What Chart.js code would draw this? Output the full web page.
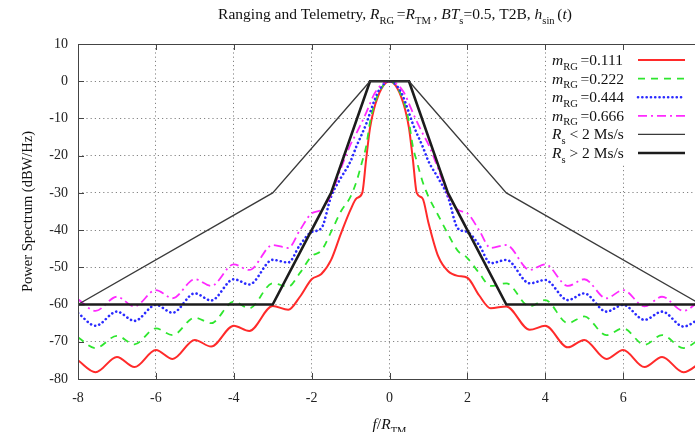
<!DOCTYPE html>
<html><head><meta charset="utf-8">
<script src="https://cdn.jsdelivr.net/npm/chart.js@4"></script>
<style>
html,body{margin:0;padding:0;background:#fff;overflow:hidden;width:695px;height:432px}
#wrap{position:absolute;left:0;top:0;width:712px;height:432px}
</style>
</head><body><div id="wrap"><canvas id="c" width="712" height="432"></canvas></div>
<script>
// ---- data ----
const freq = [-8,-7.55,-7,-6.55,-6,-5.57,-5,-4.58,-4,-3.6,-3,-2.6,-2.3,-2,-1.75,-1.5,-1.25,-1,-0.85,-0.7,-0.6,-0.5,-0.4,-0.3,-0.2,-0.1,0,
  0.1,0.2,0.3,0.4,0.5,0.6,0.7,0.85,1,1.25,1.5,1.75,2,2.3,2.6,3,3.6,4,4.58,5,5.57,6,6.55,7,7.55,8];
const psd111 = [-75,-78.2,-74.1,-76.8,-72.2,-74.6,-69.5,-71.3,-65.7,-67.1,-60.4,-61.4,-57.9,-53.2,-51.8,-48,-41,-34.5,-31.5,-30,-21,-12.5,-7.5,-4.2,-1.9,-0.5,0,
  -0.5,-1.9,-4.2,-7.5,-12.5,-21,-30,-31.5,-38,-47,-51,-52.3,-52.8,-57.5,-61,-60.5,-66.8,-65.7,-71.5,-69.5,-74.6,-72.2,-76.8,-74.1,-78.2,-75.5];
const psd222 = [-68.8,-71.7,-68.4,-70.7,-66.4,-68.2,-63.5,-65,-59.2,-61,-54.3,-55.2,-51.5,-47,-45.5,-40.5,-35,-31,-27,-21.5,-17.5,-11,-6.5,-3.7,-1.7,-0.4,0,
  -0.4,-1.7,-3.7,-6.5,-11,-17.5,-21.5,-27,-31,-36,-41,-45.5,-47.5,-51.5,-55,-54.3,-60.5,-58.8,-65,-63.2,-68.2,-66.4,-70.8,-68.2,-71.7,-69];
const psd444 = [-62.3,-65.7,-61.9,-64.4,-60.1,-62.2,-57,-58.9,-53.2,-54.6,-48,-48.7,-44,-40.5,-39.5,-31,-26,-21.5,-17.5,-14,-11.5,-8.5,-5.5,-3,-1.4,-0.3,0,
  -0.3,-1.4,-3,-5.5,-8.5,-11.5,-14,-17.5,-21.5,-26,-31,-39.5,-40.5,-44,-48.9,-48,-54.3,-53.4,-58.8,-57,-61.9,-60.1,-64.1,-61.9,-65.9,-63.5];
const psd666 = [-58.6,-61.7,-57.9,-60.5,-56.1,-58.3,-53.2,-55,-49.2,-50.7,-44,-44.8,-40,-35.5,-34.5,-30.5,-23.5,-17,-14,-10.8,-8.5,-6,-3.6,-2,-0.9,-0.2,0,
  -0.2,-0.9,-2,-3.6,-6,-8.5,-10.8,-14,-17,-23.5,-30.5,-34.5,-35.5,-40,-44.8,-44,-50.7,-49.2,-55,-53.2,-58.3,-56.1,-60.5,-57.9,-61.7,-58.6];
const maskWideF = [-8,-3,-0.5,0.5,3,8];
const maskWideDb = [-60,-30,0,0,-30,-60];
const maskNarrowF = [-8,-3,-1.5,-0.5,0.5,1.5,3,8];
const maskNarrowDb = [-60,-60,-30,0,0,-30,-60,-60];
const xTicks = [-8,-6,-4,-2,0,2,4,6,8];
const xTickLabels = ['-8','-6','-4','-2','0','2','4','6',''];
const yTicks = [10,0,-10,-20,-30,-40,-50,-60,-70,-80];
const legendLabels = [
  [{t:'m',it:1},{t:'RG ',sub:1},{t:'=0.111'}],
  [{t:'m',it:1},{t:'RG ',sub:1},{t:'=0.222'}],
  [{t:'m',it:1},{t:'RG ',sub:1},{t:'=0.444'}],
  [{t:'m',it:1},{t:'RG ',sub:1},{t:'=0.666'}],
  [{t:'R',it:1},{t:'s',sub:1},{t:' < 2 Ms/s'}],
  [{t:'R',it:1},{t:'s',sub:1},{t:' > 2 Ms/s'}]
];
const titleSegs = [{t:'Ranging and Telemetry, '},{t:'R',it:1},{t:'RG ',sub:1},{t:'='},{t:'R',it:1},{t:'TM ',sub:1},{t:', '},
  {t:'BT',it:1},{t:'s',sub:1},{t:'=0.5, T2B, '},{t:'h',it:1},{t:'sin ',sub:1},{t:'('},{t:'t',it:1},{t:')'}];
const xTitleSegs = [{t:'f',it:1},{t:'/'},{t:'R',it:1},{t:'TM',sub:1}];
const yTitle = 'Power Spectrum (dBW/Hz)';

// ---- helpers ----
const SERIF = '"Liberation Serif", "Times New Roman", serif';
function rich(ctx, segs, x, y, size, align) {
  const parts = segs.map(s => {
    const fs = s.sub ? size * 0.68 : size;
    const font = (s.it ? 'italic ' : '') + fs + 'px ' + SERIF;
    ctx.font = font;
    return {t: s.t, font, w: ctx.measureText(s.t).width, dy: s.sub ? size * 0.3 : 0};
  });
  const total = parts.reduce((a, p) => a + p.w, 0);
  let cx = align === 'center' ? x - total / 2 : (align === 'right' ? x - total : x);
  ctx.textAlign = 'left'; ctx.textBaseline = 'alphabetic';
  for (const p of parts) { ctx.font = p.font; ctx.fillText(p.t, cx, y + p.dy); cx += p.w; }
}
const pts = (xs, ys) => xs.map((x, i) => ({x, y: ys[i]}));

const styles = [
  {color:'#ff2a2a', width:2, dash:[], cap:'butt'},
  {color:'#2ee62e', width:1.8, dash:[7,6], cap:'butt'},
  {color:'#2a2aff', width:2.6, dash:[0.1,4.2], cap:'round'},
  {color:'#ff2aff', width:1.8, dash:[9,4,2,4], cap:'butt'},
  {color:'#3a3a3a', width:1.3, dash:[], cap:'butt'},
  {color:'#1c1c1c', width:2.6, dash:[], cap:'butt'}
];

const decor = {
  id: 'decor',
  afterDatasetsDraw(chart) {
    const {ctx, chartArea: a, scales} = chart;
    ctx.save();
    ctx.strokeStyle = '#444'; ctx.lineWidth = 1; ctx.setLineDash([]);
    ctx.beginPath();
    ctx.rect(a.left + 0.5, a.top + 0.5, a.right - a.left, a.bottom - a.top);
    for (const v of xTicks) {
      const px = Math.round(scales.x.getPixelForValue(v)) + 0.5;
      ctx.moveTo(px, a.bottom); ctx.lineTo(px, a.bottom - 6);
      ctx.moveTo(px, a.top); ctx.lineTo(px, a.top + 6);
    }
    for (const v of yTicks) {
      const py = Math.round(scales.y.getPixelForValue(v)) + 0.5;
      ctx.moveTo(a.left, py); ctx.lineTo(a.left + 6, py);
      ctx.moveTo(a.right, py); ctx.lineTo(a.right - 6, py);
    }
    ctx.stroke();
    ctx.restore();
  },
  afterDraw(chart) {
    const {ctx, chartArea: a} = chart;
    ctx.save();
    ctx.fillStyle = '#111';
    rich(ctx, titleSegs, 395, 19, 15.5, 'center');
    rich(ctx, xTitleSegs, (a.left + a.right) / 2, 429, 15.5, 'center');
    ctx.save();
    ctx.translate(32, (a.top + a.bottom) / 2);
    ctx.rotate(-Math.PI / 2);
    ctx.font = '14.5px ' + SERIF; ctx.textAlign = 'center'; ctx.textBaseline = 'alphabetic';
    ctx.fillText(yTitle, 0, 0);
    ctx.restore();
    // legend
    ctx.fillStyle = '#fff';
    ctx.fillRect(548, 50, 160, 113);
    const y0 = 60, dy = 18.6;
    legendLabels.forEach((segs, i) => {
      const y = y0 + i * dy;
      ctx.fillStyle = '#111';
      rich(ctx, segs, 552, y + 5, 15.5, 'left');
      const s = styles[i];
      ctx.strokeStyle = s.color; ctx.lineWidth = s.width; ctx.setLineDash(s.dash); ctx.lineCap = s.cap;
      ctx.beginPath(); ctx.moveTo(638, y); ctx.lineTo(685, y); ctx.stroke();
    });
    ctx.restore();
  }
};

const series = [psd111, psd222, psd444, psd666];
const datasets = series.map((d, i) => ({
  data: pts(freq, d), borderColor: styles[i].color, borderWidth: styles[i].width,
  borderDash: styles[i].dash, borderCapStyle: styles[i].cap, pointRadius: 0,
  cubicInterpolationMode: 'monotone', fill: false, order: 4 - i
}));
datasets.push({data: pts(maskWideF, maskWideDb), borderColor: styles[4].color, borderWidth: styles[4].width,
  pointRadius: 0, tension: 0, fill: false, order: 0});
datasets.push({data: pts(maskNarrowF, maskNarrowDb), borderColor: styles[5].color, borderWidth: styles[5].width,
  pointRadius: 0, tension: 0, fill: false, order: 0});

new Chart(document.getElementById('c'), {
  type: 'line',
  data: {datasets},
  options: {
    responsive: false, animation: false, devicePixelRatio: 1,
    layout: {padding: {left: 0, right: 10, top: 44, bottom: 0}},
    plugins: {legend: {display: false}, title: {display: false}, tooltip: {enabled: false}},
    scales: {
      x: {type: 'linear', min: -8, max: 8,
        afterFit(s) { s.height = 53; },
        afterBuildTicks(s) { s.ticks = xTicks.map(v => ({value: v})); },
        ticks: {font: {family: SERIF, size: 14}, color: '#222', padding: 11, maxRotation: 0,
          callback: (v, i) => xTickLabels[i]},
        grid: {color: 'rgba(110,110,110,0.85)', lineWidth: 1, drawTicks: false},
        border: {display: false, dash: [1.2, 3]}},
      y: {type: 'linear', min: -80, max: 10,
        afterFit(s) { s.width = 78; },
        afterBuildTicks(s) { s.ticks = yTicks.map(v => ({value: v})); },
        ticks: {font: {family: SERIF, size: 14}, color: '#222', padding: 10},
        grid: {color: 'rgba(110,110,110,0.85)', lineWidth: 1, drawTicks: false},
        border: {display: false, dash: [1.2, 3]}}
    }
  },
  plugins: [decor]
});
</script></body></html>
